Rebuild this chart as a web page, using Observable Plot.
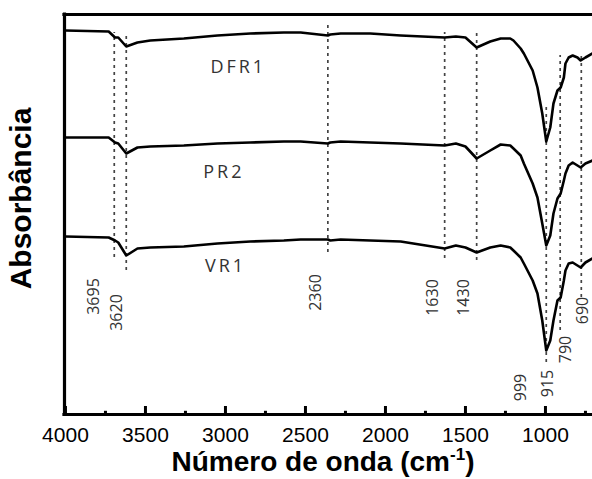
<!DOCTYPE html>
<html><head><meta charset="utf-8">
<script src="https://cdn.jsdelivr.net/npm/d3@7"></script>
<script src="https://cdn.jsdelivr.net/npm/@observablehq/plot@0.6"></script>
<style>body{margin:0;background:#fff}</style>
</head><body><div id="chart"></div>
<script>
// Wavenumber grid (cm-1)
const wavenumber = [4000, 3730, 3690, 3670, 3620, 3550, 3470, 3260, 3050, 2845, 2635, 2530, 2360, 2345, 2280, 2095, 1905, 1630, 1560, 1500, 1430, 1345, 1280, 1220, 1200, 1155, 1135, 1080, 1050, 1020, 995, 970, 950, 925, 905, 885, 875, 855, 830, 800, 780, 750, 706];
// Absorbance (arbitrary units, offset spectra)
const dfr1 = [96, 95.75, 94.25, 94.25, 92, 93, 93.5, 94, 94.75, 95.25, 95.5, 95.5, 94.75, 95, 95.25, 95.25, 94.75, 94.25, 94.5, 94.25, 91.75, 93.25, 94, 94, 93.5, 91.5, 90.25, 86, 81.75, 75.25, 68.25, 71.75, 77.75, 81, 81.75, 84.25, 87.75, 89.25, 89.75, 89.25, 88.5, 89.25, 90.25];
const pr2 = [69.25, 69.25, 68, 67.75, 65.25, 66.75, 67, 67.25, 67.75, 68, 68.25, 68.25, 67.75, 68, 68.25, 68, 67.75, 67.25, 67.75, 67, 64, 66, 67.5, 67.25, 66.5, 64.75, 62.75, 57.75, 54.25, 47.75, 42.25, 44.75, 50.25, 54, 55.25, 58.5, 60.25, 62.25, 63, 62.25, 61.75, 62.75, 63.5];
const vr1 = [44.5, 44.25, 43.5, 43, 39.75, 41.5, 41.75, 42, 42.75, 43.25, 43.5, 43.75, 43.75, 43.5, 43.75, 43.5, 43.25, 41.5, 42.25, 41.75, 40.5, 41.75, 42.25, 41.75, 41, 39.25, 37.75, 33.5, 30.25, 23.5, 16, 18.5, 23.5, 28.5, 29.25, 33.5, 36, 37.75, 38, 37.25, 36.75, 38, 39];

const seriesNames = ["DFR1", "PR2", "VR1"];
const seriesLabelX = [2920, 3010, 3000];
const seriesLabelY = [86.75, 60.5, 37];

// dashed band markers
const bandPositions = [3695, 3620, 2360, 1630, 1430, 995, 908, 776];
const bandTop = [95.5, 95.5, 97.25, 95.5, 95.25, 77.25, 89.75, 89.75];
const bandBottom = [39.25, 36, 40.5, 39, 38.5, 13, 21, 29.25];

// band labels
const bandLabels = ["3695", "3620", "2360", "1630", "1430", "999", "915", "790", "690"];
const bandLabelX = [3825, 3681, 2437, 1706, 1512, 1156, 987, 875, 769];
const bandLabelY = [29.5, 25.5, 30.5, 29.25, 29.25, 6.75, 7.75, 16.25, 26];

const majorTicks = [4000, 3500, 3000, 2500, 2000, 1500, 1000];
const minorTicks = [3750, 3250, 2750, 2250, 1750, 1250, 750];
const xDomain = [4006, 706];

const seriesValues = [dfr1, pr2, vr1];
const rows = seriesNames.flatMap((s, i) => wavenumber.map((w, j) => ({series: s, wn: w, a: seriesValues[i][j]})));
const bands = bandPositions.map((x, i) => ({x, y1: bandBottom[i], y2: bandTop[i]}));
const bandLabelRows = bandLabels.map((t, i) => ({t, x: bandLabelX[i], y: bandLabelY[i]}));
const seriesLabelRows = seriesNames.map((t, i) => ({t, x: seriesLabelX[i], y: seriesLabelY[i]}));

const chart = Plot.plot({
  width: 592, height: 479,
  marginLeft: 64, marginRight: 0, marginTop: 14, marginBottom: 65,
  style: {fontFamily: "'Liberation Sans', Arial, sans-serif", background: "white", color: "black"},
  x: {domain: xDomain, label: null},
  y: {domain: [0, 100], axis: null},
  marks: [
    Plot.ruleX(bands, {x: "x", y1: "y1", y2: "y2", stroke: "#444", strokeWidth: 1.7, strokeDasharray: "3,4"}),
    Plot.line(rows, {x: "wn", y: "a", z: "series", stroke: "black", strokeWidth: 2.6, strokeLinejoin: "round"}),
    Plot.ruleY([0, 100], {stroke: "black", strokeWidth: 3.2, strokeLinecap: "square"}),
    Plot.ruleX([xDomain[0]], {stroke: "black", strokeWidth: 3.2, strokeLinecap: "square"}),
    Plot.ruleX(majorTicks, {y1: 0, y2: 2, stroke: "black", strokeWidth: 3}),
    Plot.ruleX(minorTicks, {y1: 0, y2: 0.8, stroke: "black", strokeWidth: 3}),
    Plot.axisX({ticks: majorTicks, tickSize: 0, tickPadding: 13, fontSize: 21, tickFormat: d => String(d), label: null}),
    Plot.text(bandLabelRows, {x: "x", y: "y", text: "t", rotate: -90, fontSize: 16, fill: "#333", fontFamily: "'Open Sans', sans-serif"}),
    Plot.text(seriesLabelRows, {x: "x", y: "y", text: "t", fontSize: 18, fill: "#333", fontFamily: "'Open Sans', sans-serif"}),
    Plot.text(["Absorbância"], {frameAnchor: "left", textAnchor: "middle", dx: -43, dy: -16, rotate: -90, fontSize: 30, fontWeight: "bold", fill: "black"})
  ]
});

const svg = d3.select(chart);
svg.selectAll("text").filter(function() { return seriesNames.includes(this.textContent); })
  .attr("letter-spacing", "3px");
const title = svg.append("text")
  .attr("x", 323).attr("y", 471)
  .attr("text-anchor", "middle")
  .attr("font-size", 28).attr("font-weight", "bold").attr("fill", "black")
  .attr("font-family", "'Liberation Sans', Arial, sans-serif");
title.append("tspan").text("Número de onda (cm");
title.append("tspan").attr("font-size", 17).attr("dy", -11).text("-1");
title.append("tspan").attr("dy", 11).text(")");

document.getElementById("chart").appendChild(chart);
</script>
</body></html>
